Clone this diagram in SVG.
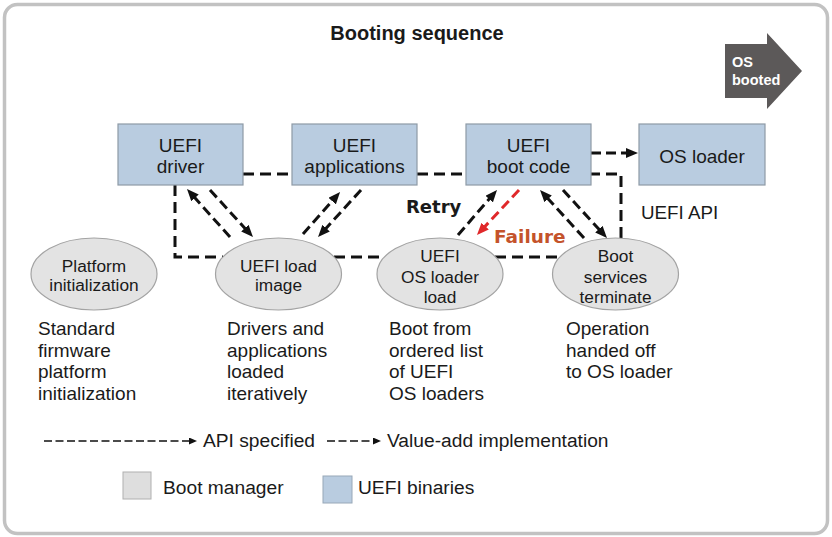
<svg xmlns="http://www.w3.org/2000/svg" width="832" height="537" viewBox="0 0 832 537">
<style>
.t{font-family:"Liberation Sans",Arial,sans-serif;fill:#1a1a1a}
.box{fill:#b9cce0;stroke:#8e9aa6;stroke-width:1.2}
.ell{fill:#e3e3e3;stroke:#a3a3a3;stroke-width:1.2}
.bt{font-size:19px;text-anchor:middle}
.et{font-size:17.3px;text-anchor:middle}
.dt{font-size:19px}
.lg{font-size:19.2px}
.dash{fill:none;stroke:#111;stroke-width:3;stroke-dasharray:11 6}
.arr{fill:none;stroke:#111;stroke-width:3;stroke-dasharray:10 5;marker-end:url(#ah)}
.red{fill:none;stroke:#e0282a;stroke-width:3;stroke-dasharray:10 5;marker-end:url(#ahr)}
.thin{fill:none;stroke:#111;stroke-width:1.6;stroke-dasharray:8 3.5;marker-end:url(#ahs)}
</style>
<defs>
<marker id="ah" viewBox="0 0 12 10" refX="3" refY="5" markerWidth="12" markerHeight="10" markerUnits="userSpaceOnUse" orient="auto"><path d="M0,0 L12,5 L0,10 z" fill="#111"/></marker>
<marker id="ahr" viewBox="0 0 12 10" refX="3" refY="5" markerWidth="12" markerHeight="10" markerUnits="userSpaceOnUse" orient="auto"><path d="M0,0 L12,5 L0,10 z" fill="#e0282a"/></marker>
<marker id="ahs" viewBox="0 0 8 7" refX="2" refY="3.5" markerWidth="8" markerHeight="7" markerUnits="userSpaceOnUse" orient="auto"><path d="M0,0 L8,3.5 L0,7 z" fill="#111"/></marker>
</defs>
<rect x="0" y="0" width="832" height="537" fill="#ffffff"/>
<rect x="4.5" y="4.5" width="823" height="529" rx="13" ry="13" fill="#ffffff" stroke="#c2c2c2" stroke-width="3.5"/>
<text class="t" x="417" y="40" font-size="20" font-weight="bold" text-anchor="middle">Booting sequence</text>

<g id="os-booted">
<polygon points="725,44 767,44 767,33 802,71 767,109 767,98 725,98" fill="#5c5959"/>
<text x="732" y="67" font-family="Liberation Sans,Arial,sans-serif" font-size="14.5" font-weight="bold" fill="#ffffff">OS</text>
<text x="732" y="85" font-family="Liberation Sans,Arial,sans-serif" font-size="14.5" font-weight="bold" fill="#ffffff">booted</text>
</g>

<g id="connectors">
<path class="dash" d="M175,185 V257 H223"/>
<path class="dash" d="M334,257 H385"/>
<path class="dash" d="M495,257 H560"/>
<path class="dash" d="M621,238 V174 H591"/>
<path class="dash" d="M243,174 H291"/>
<path class="dash" d="M417,174 H466"/>
<line class="arr" x1="230" y1="237" x2="193" y2="195.7"/>
<line class="arr" x1="210" y1="190" x2="246.9" y2="230.4"/>
<line class="arr" x1="303" y1="234" x2="334.1" y2="198.8"/>
<line class="arr" x1="361" y1="190" x2="324.1" y2="230.4"/>
<line class="arr" x1="458" y1="235" x2="491.1" y2="196.8"/>
<line class="red" x1="519" y1="190" x2="483.1" y2="228.4"/>
<line class="arr" x1="584" y1="238" x2="546.1" y2="196.6"/>
<line class="arr" x1="563" y1="190" x2="600.9" y2="231.4"/>
<line class="arr" x1="591" y1="153" x2="629" y2="153"/>
</g>

<g id="uefi-driver">
<rect class="box" x="118" y="124" width="125" height="61"/>
<text class="t bt" x="180.5" y="152">UEFI</text>
<text class="t bt" x="180.5" y="173">driver</text>
</g>
<g id="uefi-applications">
<rect class="box" x="292" y="124" width="125" height="61"/>
<text class="t bt" x="354.5" y="152">UEFI</text>
<text class="t bt" x="354.5" y="173">applications</text>
</g>
<g id="uefi-boot-code">
<rect class="box" x="466" y="124" width="125" height="61"/>
<text class="t bt" x="528.5" y="152">UEFI</text>
<text class="t bt" x="528.5" y="173">boot code</text>
</g>
<g id="os-loader">
<rect class="box" x="639" y="124" width="126" height="61"/>
<text class="t bt" x="702" y="163">OS loader</text>
</g>

<g id="platform-init">
<ellipse class="ell" cx="94" cy="274" rx="63" ry="36"/>
<text class="t et" x="94" y="272">Platform</text>
<text class="t et" x="94" y="291">initialization</text>
</g>
<g id="uefi-load-image">
<ellipse class="ell" cx="278.5" cy="274" rx="63" ry="36"/>
<text class="t et" x="278.5" y="272">UEFI load</text>
<text class="t et" x="278.5" y="291">image</text>
</g>
<g id="uefi-os-loader-load">
<ellipse class="ell" cx="440" cy="274" rx="63" ry="36"/>
<text class="t et" x="440" y="262">UEFI</text>
<text class="t et" x="440" y="283">OS loader</text>
<text class="t et" x="440" y="303">load</text>
</g>
<g id="boot-services-terminate">
<ellipse class="ell" cx="615.5" cy="274" rx="63" ry="36"/>
<text class="t et" x="615.5" y="262">Boot</text>
<text class="t et" x="615.5" y="283">services</text>
<text class="t et" x="615.5" y="303">terminate</text>
</g>

<g id="labels">
<text x="406" y="213" font-family="DejaVu Sans,Verdana,sans-serif" font-size="18" font-weight="bold" fill="#1a1a1a">Retry</text>
<text x="494" y="243" font-family="DejaVu Sans,Verdana,sans-serif" font-size="18.5" font-weight="bold" fill="#c4532b">Failure</text>
<text class="t" x="641" y="219" font-size="18.8">UEFI API</text>
</g>

<g id="descriptions">
<text class="t dt" x="38" y="335">Standard</text>
<text class="t dt" x="38" y="357">firmware</text>
<text class="t dt" x="38" y="378">platform</text>
<text class="t dt" x="38" y="400">initialization</text>
<text class="t dt" x="227" y="335">Drivers and</text>
<text class="t dt" x="227" y="357">applications</text>
<text class="t dt" x="227" y="378">loaded</text>
<text class="t dt" x="227" y="400">iteratively</text>
<text class="t dt" x="389" y="335">Boot from</text>
<text class="t dt" x="389" y="357">ordered list</text>
<text class="t dt" x="389" y="378">of UEFI</text>
<text class="t dt" x="389" y="400">OS loaders</text>
<text class="t dt" x="566" y="335">Operation</text>
<text class="t dt" x="566" y="357">handed off</text>
<text class="t dt" x="566" y="378">to OS loader</text>
</g>

<g id="legend">
<line class="thin" x1="44" y1="441" x2="191" y2="441"/>
<text class="t lg" x="203" y="447">API specified</text>
<line class="thin" x1="327" y1="441" x2="375" y2="441"/>
<text class="t lg" x="387" y="447">Value-add implementation</text>
<rect x="123" y="472" width="28" height="27" fill="#dedede" stroke="#b0b0b0" stroke-width="1"/>
<text class="t lg" x="163" y="494">Boot manager</text>
<rect x="323" y="476" width="29" height="27" fill="#b9cce0" stroke="#98a8b8" stroke-width="1"/>
<text class="t lg" x="358" y="494">UEFI binaries</text>
</g>
</svg>
